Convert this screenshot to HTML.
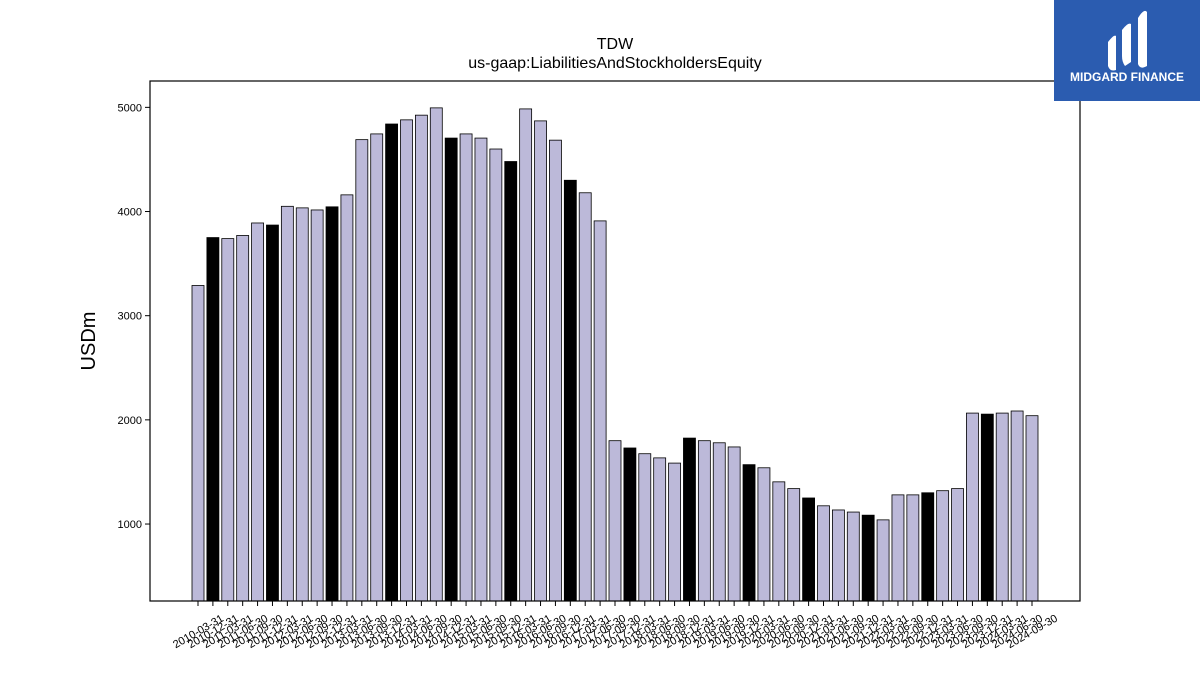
<!DOCTYPE html>
<html><head><meta charset="utf-8"><style>
body{margin:0;background:#fff;width:1200px;height:675px;overflow:hidden;font-family:"Liberation Sans","DejaVu Sans",sans-serif;}
</style></head><body>
<svg id="chart" width="1200" height="675" xmlns="http://www.w3.org/2000/svg" style="position:absolute;left:0;top:0">
<text x="615" y="49" text-anchor="middle" font-size="16" fill="#000">TDW</text>
<text x="615" y="68" text-anchor="middle" font-size="16" fill="#000">us-gaap:LiabilitiesAndStockholdersEquity</text>
<text transform="translate(95,341) rotate(-90)" text-anchor="middle" font-size="20" fill="#000">USDm</text>
<g id="bars"></g>
<g id="yaxis"></g>
<g id="xaxis"></g>
<rect x="150" y="81" width="930" height="520" fill="none" stroke="#000" stroke-width="1.2"/>
<g>
<rect x="1054" y="0" width="146" height="101" fill="#2b5cb0"/>
<path d="M1108 42 Q1114 34 1116 36 L1116 70 Q1110 72 1108 66 Z" fill="#fff"/>
<path d="M1122 30 Q1128 22 1131 24 L1131 62 L1125 66 Q1122 62 1122 56 Z" fill="#fff"/>
<path d="M1138 18 Q1144 8 1147 12 L1147 66 Q1140 70 1138 64 Z" fill="#fff"/>
<text x="1127" y="81" text-anchor="middle" font-size="12" font-weight="bold" fill="#fff">MIDGARD FINANCE</text>
</g>
</svg>
<script>
const dates=["2010-03-31"];
(function(){for(let y=2010;y<=2024;y++){for(const q of ["03-31","06-30","09-30","12-31"]){const d=y+"-"+q;if(d>="2010-12-31"&&d<="2024-09-30")dates.push(d);}}})();
const values=[3290,3750,3740,3770,3890,3870,4050,4035,4015,4045,4160,4690,4745,4840,4880,4925,4995,4705,4745,4705,4600,4480,4985,4870,4685,4300,4180,3910,1800,1730,1675,1635,1585,1825,1800,1780,1740,1570,1540,1405,1340,1250,1175,1135,1115,1085,1040,1280,1280,1300,1320,1340,2065,2055,2065,2085,2040];
const yTicks=[1000,2000,3000,4000,5000];
const NS="http://www.w3.org/2000/svg";
function ys(v){return 628.2-v*0.10417;}
function xs(i){return 198+i*(834/(dates.length-1));}
const bars=document.getElementById('bars'),ya=document.getElementById('yaxis'),xa=document.getElementById('xaxis');
function mk(tag,attrs,parent){const e=document.createElementNS(NS,tag);for(const k in attrs)e.setAttribute(k,attrs[k]);parent.appendChild(e);return e;}
values.forEach((v,i)=>{
  const black=dates[i].endsWith("12-31");
  const r=mk('rect',{x:xs(i)-6,y:ys(v),width:12,height:601-ys(v),fill:black?'#000':'#bcb9d9',stroke:'#000','stroke-width':0.8},bars);
  
  
  const t=mk('line',{x1:xs(i),x2:xs(i),y1:601,y2:606,stroke:'#000'},xa);
  
  
  const l=mk('text',{x:xs(i),y:635,'text-anchor':'middle','font-size':11,transform:`rotate(-30 ${xs(i)} 631)`},xa);
  l.textContent=dates[i];
  
  
});
yTicks.forEach(v=>{
  const t=mk('line',{x1:145,x2:150,y1:ys(v),y2:ys(v),stroke:'#000'},ya);
  
  
  const l=mk('text',{x:142,y:ys(v)+4,'text-anchor':'end','font-size':11},ya);
  l.textContent=v;
  
  
});
</script>
</body></html>
